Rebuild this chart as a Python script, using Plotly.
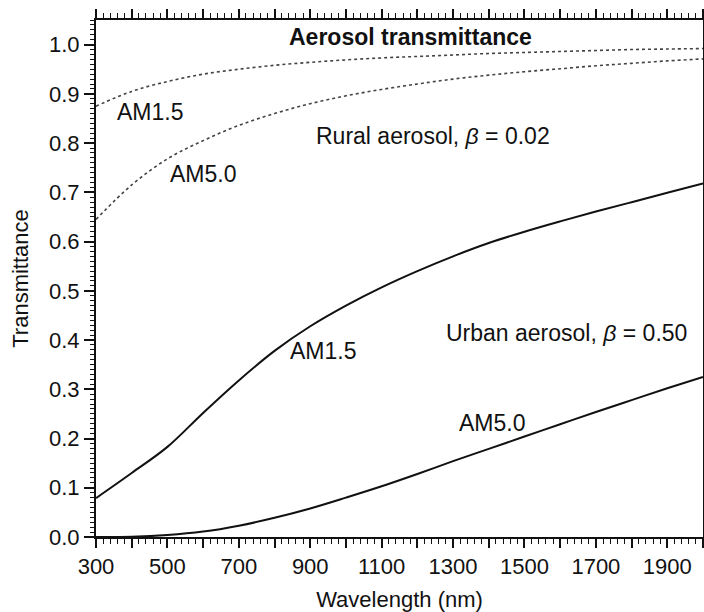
import plotly.graph_objects as go

# Wavelength grid (nm)
wavelength = [300, 400, 500, 600, 700, 800, 900, 1000, 1100, 1200,
              1300, 1400, 1500, 1600, 1700, 1800, 1900, 2000]

# Rural aerosol, beta = 0.02
rural_am15 = [0.875, 0.905, 0.925, 0.940, 0.950, 0.958, 0.964, 0.969, 0.973,
              0.976, 0.979, 0.982, 0.984, 0.986, 0.988, 0.990, 0.991, 0.992]
rural_am50 = [0.645, 0.715, 0.768, 0.805, 0.836, 0.860, 0.880, 0.896, 0.909,
              0.920, 0.930, 0.938, 0.945, 0.951, 0.957, 0.962, 0.967, 0.971]

# Urban aerosol, beta = 0.50
urban_am15 = [0.079, 0.130, 0.183, 0.252, 0.318, 0.378, 0.428, 0.470, 0.507,
              0.540, 0.570, 0.597, 0.620, 0.641, 0.661, 0.680, 0.699, 0.718]
urban_am50 = [0.000, 0.0005, 0.004, 0.011, 0.023, 0.039, 0.058, 0.080, 0.103,
              0.128, 0.154, 0.179, 0.204, 0.229, 0.254, 0.278, 0.302, 0.325]

x_ticks = list(range(300, 2001, 100))
x_ticktext = [str(v) if (v - 300) % 200 == 0 and v < 2000 else "" for v in x_ticks]
y_ticks = [round(0.1 * i, 1) for i in range(11)]
y_ticktext = [f"{v:.1f}" for v in y_ticks]

FONT = "Liberation Sans, Arial, Helvetica, sans-serif"

fig = go.Figure()
fig.add_trace(go.Scatter(x=wavelength, y=rural_am15, mode="lines",
                         line=dict(color="#444444", width=1.6, dash="dot", shape="spline")))
fig.add_trace(go.Scatter(x=wavelength, y=rural_am50, mode="lines",
                         line=dict(color="#444444", width=1.6, dash="dot", shape="spline")))
fig.add_trace(go.Scatter(x=wavelength, y=urban_am15, mode="lines",
                         line=dict(color="#111111", width=2, shape="spline")))
fig.add_trace(go.Scatter(x=wavelength, y=urban_am50, mode="lines",
                         line=dict(color="#111111", width=2, shape="spline")))

labels = [
    (1182, 1.016, "<b>Aerosol transmittance</b>"),
    (451, 0.864, "AM1.5"),
    (600, 0.738, "AM5.0"),
    (1244, 0.815, "Rural aerosol, <i>β</i> = 0.02"),
    (936, 0.378, "AM1.5"),
    (1618, 0.415, "Urban aerosol, <i>β</i> = 0.50"),
    (1409, 0.232, "AM5.0"),
]
for lx, ly, txt in labels:
    fig.add_annotation(x=lx, y=ly, text=txt, showarrow=False,
                       xanchor="center", yanchor="middle",
                       font=dict(family=FONT, size=23, color="#111111"))

fig.update_layout(
    width=704, height=612,
    margin=dict(l=96, r=1, t=20, b=75),
    paper_bgcolor="white", plot_bgcolor="white",
    showlegend=False,
    font=dict(family=FONT, size=22, color="#111111"),
    xaxis=dict(
        range=[300, 2000], tickvals=x_ticks, ticktext=x_ticktext,
        ticks="outside", ticklen=9, tickwidth=1.5, tickcolor="#111111",
        minor=dict(dtick=20, ticks="outside", ticklen=5, tickwidth=1, tickcolor="#111111"),
        showline=True, linewidth=2, linecolor="#111111", mirror="ticks",
        showgrid=False, zeroline=False, automargin=False,
        title=dict(text="Wavelength (nm)", font=dict(size=22), standoff=14),
        tickfont=dict(size=22),
    ),
    yaxis=dict(
        range=[0, 1.05], tickvals=y_ticks, ticktext=y_ticktext,
        ticks="outside", ticklen=10, tickwidth=1.5, tickcolor="#111111",
        minor=dict(dtick=0.01, tick0=0, ticks="outside", ticklen=4, tickwidth=1, tickcolor="#111111"),
        showline=True, linewidth=2, linecolor="#111111", mirror="ticks",
        showgrid=False, zeroline=False, automargin=False,
        title=dict(text="Transmittance", font=dict(size=22), standoff=14),
        tickfont=dict(size=22),
    ),
)

fig.write_html("out.html")
